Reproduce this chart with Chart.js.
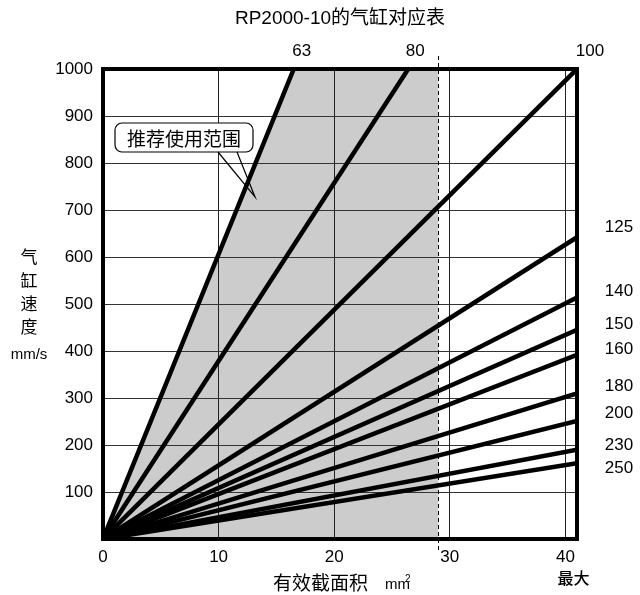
<!DOCTYPE html>
<html>
<head>
<meta charset="utf-8">
<script src="https://cdn.jsdelivr.net/npm/chart.js@4.4.1/dist/chart.umd.min.js"></script>
<style>
html,body{margin:0;padding:0;background:#fff;}
#wrap{width:640px;height:595px;}
</style>
</head>
<body>
<div id="wrap"><canvas id="c" width="640" height="595"></canvas></div>
<script>
// ---- data ----
const boreLabels = ['63','80','100','125','140','150','160','180','200','230','250'];
const endArea    = [16.5, 26.4, 41, 41, 41, 41, 41, 41, 41, 41, 41];      // mm² at line end
const endSpeed   = [1000, 1000, 1000, 642, 514, 445, 392, 310, 251, 190, 161]; // mm/s at line end
const xTicks = [0, 10, 20, 30, 40];
const yTicks = [0, 100, 200, 300, 400, 500, 600, 700, 800, 900, 1000];
const xMax = 41, yMax = 1000;
const limitArea = 29;          // dashed limit line
const rangeLabel = '推荐使用范围';
const titleText = 'RP2000-10的气缸对应表';
const yTitleChars = ['气','缸','速','度'];
const yUnit = 'mm/s';
const xTitle = '有效截面积';
const maxLabel = '最大';

const LAT = '"Liberation Sans", "Noto Sans CJK SC", sans-serif';
const CJK = '"Noto Sans CJK SC", "Liberation Sans", sans-serif';

const datasets = boreLabels.map((b, i) => ({
  label: b,
  data: [{x: 0, y: 0}, {x: endArea[i], y: endSpeed[i]}],
  borderColor: '#000',
  borderWidth: 4.5,
  pointRadius: 0,
  fill: false,
  tension: 0
}));

const decor = {
  id: 'decor',
  beforeDraw(chart) {
    const {ctx, chartArea: a, scales: {x, y}} = chart;
    ctx.save();
    ctx.fillStyle = '#fff';
    ctx.fillRect(0, 0, chart.width, chart.height);
    ctx.fillStyle = '#cccccc';
    ctx.beginPath();
    ctx.moveTo(x.getPixelForValue(0), y.getPixelForValue(0));
    ctx.lineTo(x.getPixelForValue(endArea[0]), y.getPixelForValue(endSpeed[0]));
    ctx.lineTo(x.getPixelForValue(limitArea), y.getPixelForValue(yMax));
    ctx.lineTo(x.getPixelForValue(limitArea), y.getPixelForValue(0));
    ctx.closePath();
    ctx.fill();
    ctx.restore();
  },
  beforeDatasetsDraw(chart) {
    const {ctx, chartArea: a, scales: {x}} = chart;
    ctx.save();
    ctx.strokeStyle = '#000';
    ctx.lineWidth = 1;
    ctx.setLineDash([4, 3]);
    const px = Math.round(x.getPixelForValue(limitArea)) + 0.5;
    ctx.beginPath();
    ctx.moveTo(px, a.top - 13);
    ctx.lineTo(px, a.bottom + 12);
    ctx.stroke();
    ctx.restore();
  },
  afterDatasetsDraw(chart) {
    const {ctx, chartArea: a} = chart;
    ctx.save();
    ctx.strokeStyle = '#000';
    ctx.lineWidth = 4;
    ctx.strokeRect(a.left, a.top, a.right - a.left, a.bottom - a.top);
    ctx.restore();
  },
  afterDraw(chart) {
    const {ctx, chartArea: a, scales: {x, y}} = chart;
    ctx.save();
    ctx.fillStyle = '#000';
    ctx.textAlign = 'center';
    ctx.textBaseline = 'middle';
    ctx.font = '19px ' + LAT;
    ctx.fillText(titleText, 340, 19);
    ctx.font = '17px ' + LAT;
    const topOff = [8, 7, 13];
    for (let i = 0; i < 3; i++) {
      ctx.fillText(boreLabels[i], x.getPixelForValue(endArea[i]) + topOff[i], 51);
    }
    const rightAt = [663, 526, 456, 403, 324, 267, 200, 151];
    for (let i = 3; i < boreLabels.length; i++) {
      ctx.fillText(boreLabels[i], 619, y.getPixelForValue(rightAt[i - 3]));
    }
    ctx.font = '17px ' + CJK;
    const yc = [257, 281, 304, 327];
    yTitleChars.forEach((ch, i) => ctx.fillText(ch, 29, yc[i]));
    ctx.font = '15px ' + LAT;
    ctx.fillText(yUnit, 29, 355);
    ctx.font = '19px ' + CJK;
    ctx.textAlign = 'left';
    ctx.fillText(xTitle, 273, 583);
    ctx.font = '15px ' + LAT;
    ctx.fillText('mm', 385, 585);
    ctx.font = '10px ' + LAT;
    ctx.fillText('2', 405, 579);
    ctx.textAlign = 'center';
    ctx.font = '500 16px ' + CJK;
    ctx.fillText(maxLabel, x.getPixelForValue(40) + 8, 578);
    const bx = 115, by = 123, bw = 138, bh = 29, r = 7;
    ctx.fillStyle = '#fff';
    ctx.strokeStyle = '#000';
    ctx.lineWidth = 1.2;
    ctx.beginPath();
    ctx.moveTo(bx + r, by);
    ctx.lineTo(bx + bw - r, by);
    ctx.arcTo(bx + bw, by, bx + bw, by + r, r);
    ctx.lineTo(bx + bw, by + bh - r);
    ctx.arcTo(bx + bw, by + bh, bx + bw - r, by + bh, r);
    ctx.lineTo(bx + r, by + bh);
    ctx.arcTo(bx, by + bh, bx, by + bh - r, r);
    ctx.lineTo(bx, by + r);
    ctx.arcTo(bx, by, bx + r, by, r);
    ctx.closePath();
    ctx.fill();
    ctx.stroke();
    ctx.beginPath();
    ctx.moveTo(218, by + bh);
    ctx.lineTo(255, 197);
    ctx.lineTo(237, by + bh);
    ctx.stroke();
    ctx.fillStyle = '#000';
    ctx.font = '19px ' + CJK;
    ctx.fillText(rangeLabel, bx + bw / 2, by + bh / 2 + 1);
    ctx.restore();
  }
};

new Chart(document.getElementById('c'), {
  type: 'line',
  data: { datasets },
  options: {
    responsive: false,
    animation: false,
    events: [],
    layout: { padding: { top: 69, right: 63, left: 0, bottom: 0 } },
    plugins: { legend: { display: false }, tooltip: { enabled: false }, title: { display: false } },
    scales: {
      x: {
        type: 'linear', min: 0, max: xMax,
        afterFit(s) { s.height = 56; },
        afterBuildTicks(s) { s.ticks = xTicks.map(v => ({ value: v })); },
        border: { display: false },
        grid: { color: '#222', lineWidth: 1, drawTicks: false },
        ticks: { color: '#000', font: { family: LAT, size: 17 }, padding: 8, maxRotation: 0, autoSkip: false }
      },
      y: {
        type: 'linear', min: 0, max: yMax,
        afterFit(s) { s.width = 103; },
        afterBuildTicks(s) { s.ticks = yTicks.map(v => ({ value: v })); },
        border: { display: false },
        grid: { color: '#333', lineWidth: 1, drawTicks: false },
        ticks: { color: '#000', font: { family: LAT, size: 17 }, padding: 10, autoSkip: false,
          callback: (v) => v === 0 ? '' : String(v) }
      }
    }
  },
  plugins: [decor]
});
</script>
</body>
</html>
